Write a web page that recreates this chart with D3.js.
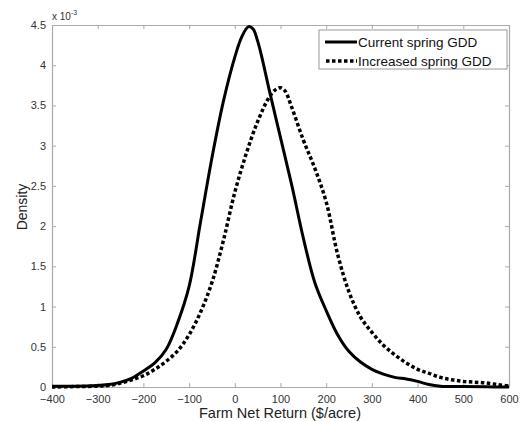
<!DOCTYPE html>
<html><head><meta charset="utf-8">
<script src="https://cdn.jsdelivr.net/npm/d3@7"></script>
<style>body{margin:0;background:#fff}svg{display:block}</style>
</head><body>
<svg id="c" width="522" height="421"></svg>
<script>
const seriesNames = ["Current spring GDD", "Increased spring GDD"];
const currentX = [-400,-350,-300,-275,-250,-225,-200,-175,-150,-125,-100,-75,-50,-25,0,15,30,40,50,60,75,100,125,150,175,200,225,250,275,300,325,350,375,400,425,450,500,550,600];
const currentY = [0.01,0.01,0.02,0.03,0.06,0.11,0.2,0.3,0.47,0.8,1.25,2.05,2.85,3.55,4.1,4.35,4.48,4.45,4.3,4.08,3.7,3.1,2.5,1.85,1.3,0.95,0.65,0.44,0.31,0.22,0.16,0.12,0.1,0.07,0.03,0.01,0.005,0.002,0];
const increasedX = [-400,-350,-300,-275,-250,-225,-200,-175,-150,-125,-100,-75,-50,-25,0,25,50,75,90,100,110,125,150,175,200,225,250,275,300,325,350,375,400,425,450,475,500,525,550,575,600];
const increasedY = [0,0.005,0.01,0.02,0.05,0.09,0.14,0.22,0.32,0.45,0.65,0.93,1.3,1.82,2.42,2.9,3.3,3.6,3.7,3.72,3.68,3.47,3.07,2.72,2.3,1.65,1.18,0.87,0.68,0.52,0.4,0.3,0.22,0.17,0.12,0.09,0.07,0.06,0.05,0.03,0.01];
const xTicks = [-400,-300,-200,-100,0,100,200,300,400,500,600];
const yTicks = [0,0.5,1,1.5,2,2.5,3,3.5,4,4.5];

const svg = d3.select("#c");
const L = 52, R = 509, T = 25, B = 387;
const x = d3.scaleLinear().domain([-400,600]).range([L,R]);
const y = d3.scaleLinear().domain([0,4.5]).range([B,T]);
const font = "Liberation Sans, Arial, sans-serif";
const axisCol = "#aaaaaa";

// axes
const gx = svg.append("g").attr("transform",`translate(0,${B})`)
  .call(d3.axisBottom(x).tickValues(xTicks).tickSizeInner(-4).tickSizeOuter(0).tickPadding(8));
const gxt = svg.append("g").attr("transform",`translate(0,${T})`)
  .call(d3.axisTop(x).tickValues(xTicks).tickSizeInner(-4).tickSizeOuter(0).tickFormat(""));
const gy = svg.append("g").attr("transform",`translate(${L},0)`)
  .call(d3.axisLeft(y).tickValues(yTicks).tickSizeInner(-4).tickSizeOuter(0).tickPadding(6).tickFormat(d3.format("")));
const gyr = svg.append("g").attr("transform",`translate(${R},0)`)
  .call(d3.axisRight(y).tickValues(yTicks).tickSizeInner(-4).tickSizeOuter(0).tickFormat(""));
[gx,gxt,gy,gyr].forEach(g=>{
  g.selectAll("path").attr("stroke",axisCol).attr("stroke-width",1.2);
  g.selectAll("line").attr("stroke",axisCol);
  g.selectAll("text").attr("fill","#333").attr("font-family",font).attr("font-size",11);
});

// curves
const line = d3.line().x(d=>x(d[0])).y(d=>y(d[1])).curve(d3.curveCatmullRom.alpha(0.5));
const cur = currentX.map((v,i)=>[v,currentY[i]]);
const inc = increasedX.map((v,i)=>[v,increasedY[i]]);
svg.append("path").datum(inc).attr("d",line).attr("fill","none").attr("stroke","#000")
  .attr("stroke-width",3.5).attr("stroke-dasharray","3.5,2.5");
svg.append("path").datum(cur).attr("d",line).attr("fill","none").attr("stroke","#000")
  .attr("stroke-width",3);

// exponent label
const ex = svg.append("text").attr("x",L).attr("y",20).attr("font-family",font).attr("font-size",10).attr("fill","#333");
ex.append("tspan").text("x 10");
ex.append("tspan").attr("dy",-5).attr("font-size",7).text("-3");

// legend
const lg = svg.append("g");
lg.append("rect").attr("x",319).attr("y",30).attr("width",188).attr("height",39)
  .attr("fill","#fff").attr("stroke","#999").attr("stroke-width",1);
const ly = [42,61];
lg.append("line").attr("x1",325).attr("x2",357).attr("y1",ly[0]).attr("y2",ly[0]).attr("stroke","#000").attr("stroke-width",3);
lg.append("line").attr("x1",326).attr("x2",357).attr("y1",ly[1]).attr("y2",ly[1]).attr("stroke","#000").attr("stroke-width",3.5).attr("stroke-dasharray","3.5,2.5");
seriesNames.forEach((n,i)=>{
  lg.append("text").attr("x",358).attr("y",ly[i]+4.5).attr("font-family",font).attr("font-size",13.5).attr("fill","#111").text(n);
});

// axis labels
svg.append("text").attr("x",280).attr("y",418).attr("text-anchor","middle").attr("font-family",font).attr("font-size",14.5).attr("fill","#222").text("Farm Net Return ($/acre)");
svg.append("text").attr("transform","translate(27,207) rotate(-90)").attr("text-anchor","middle").attr("font-family",font).attr("font-size",14).attr("fill","#222").text("Density");
</script>
</body></html>
